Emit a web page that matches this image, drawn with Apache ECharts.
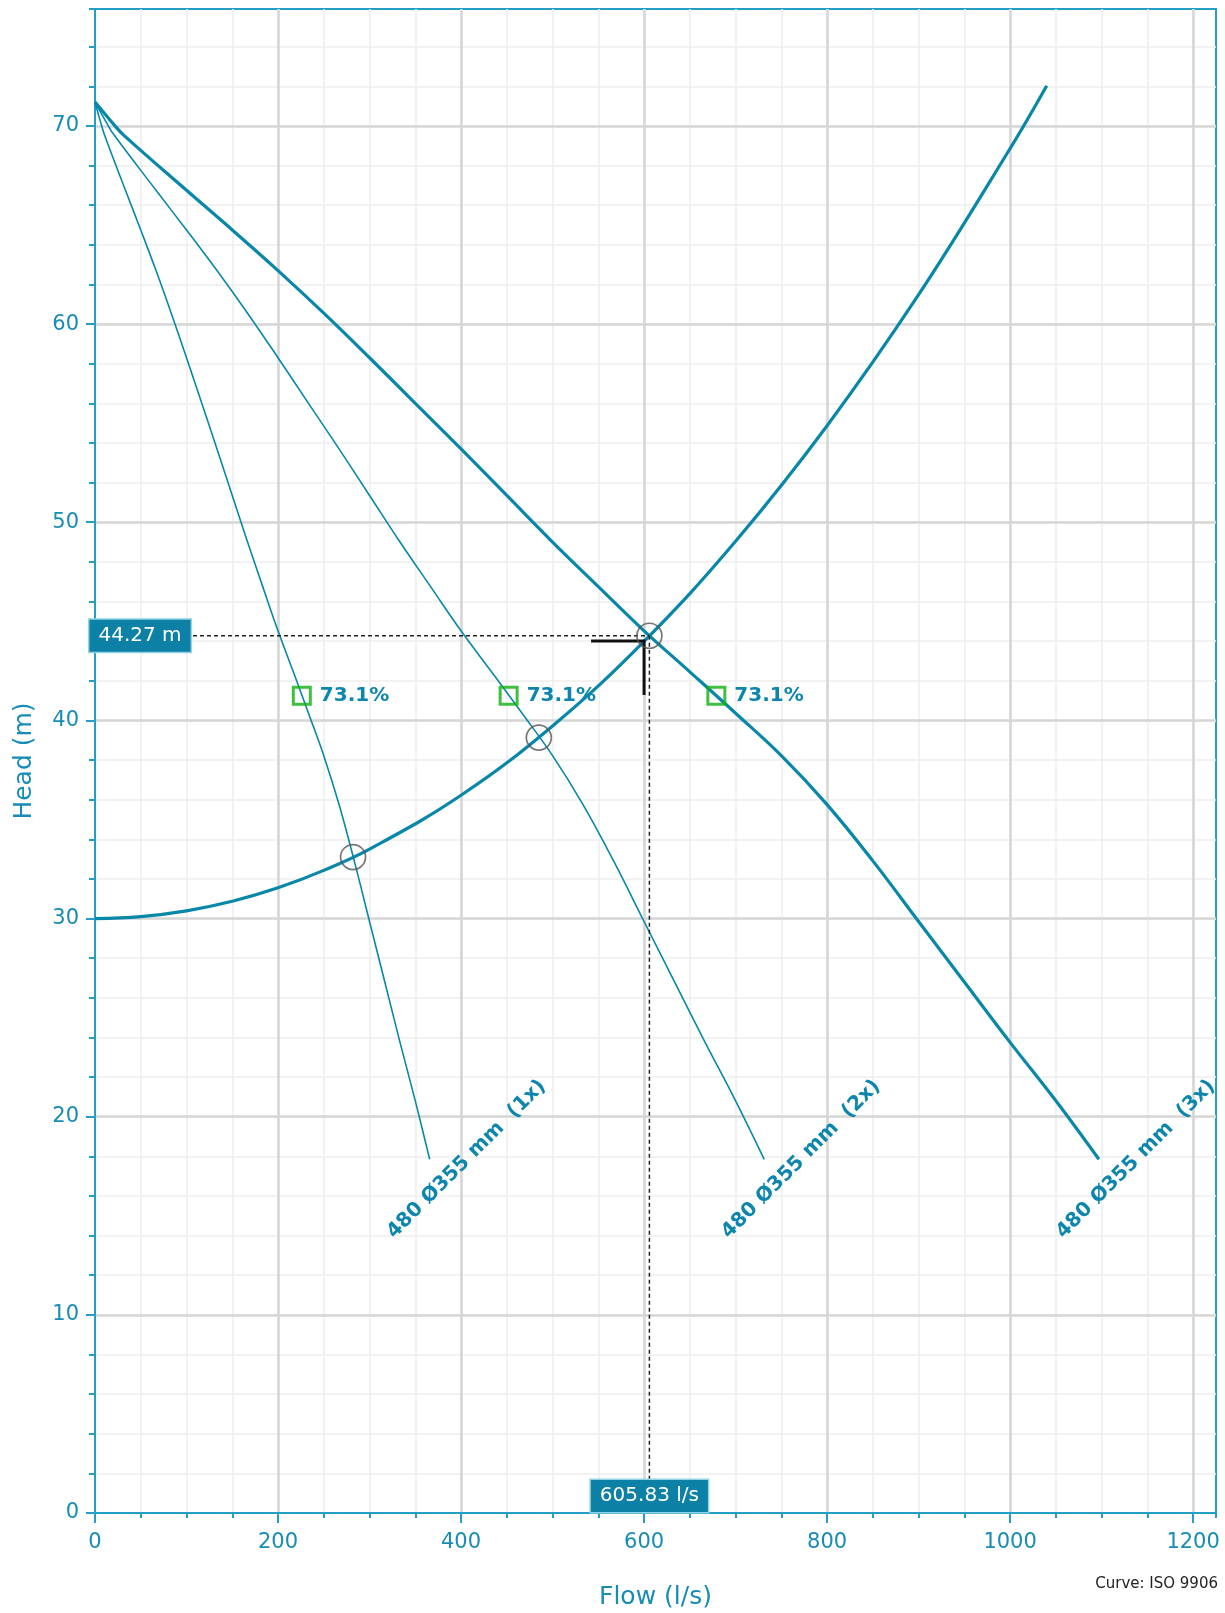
<!DOCTYPE html>
<html><head><meta charset="utf-8">
<script src="https://cdn.jsdelivr.net/npm/echarts@6/dist/echarts.min.js"></script>
<style>html,body{margin:0;padding:0;background:#fff}#chart{width:1225px;height:1613px}</style>
</head><body><div id="chart"></div>
<script>
// ---- data ----
const flowMax = 1225;
const headMax = 75.9;
const flowTickStep = 200;
const headTickStep = 10;
const flowMinorStep = 50;
const headMinorStep = 2;

const pumpHeads = [71.2, 70.65, 70.1, 69.55, 66.75, 64.75, 62.7, 60.55, 58.3, 56.0, 53.7, 51.35, 49.0, 46.75, 44.52, 42.45, 40.36, 38.22, 35.75, 32.91, 29.85, 26.8, 23.75, 20.8, 17.85];
const flows1x = [0, 3.3, 6.7, 10.3, 33.3, 50, 66.7, 83.3, 100, 116.7, 133.3, 150, 166.7, 183.3, 200, 216.7, 233.3, 250, 266.7, 283.3, 300, 316.7, 333.3, 350, 365.7];
const flows2x = [0, 6.7, 13.3, 20.7, 66.7, 100, 133.3, 166.7, 200, 233.3, 266.7, 300, 333.3, 366.7, 400, 433.3, 466.7, 500, 533.3, 566.7, 600, 633.3, 666.7, 700, 731.3];
const flows3x = [0, 10, 20, 31, 100, 150, 200, 250, 300, 350, 400, 450, 500, 550, 600, 650, 700, 750, 800, 850, 900, 950, 1000, 1050, 1097];
const systemFlows = [0, 50, 100, 150, 200, 250, 300, 400, 500, 600, 700, 800, 900, 1000, 1040];
const systemHeads = [30.0, 30.1, 30.39, 30.87, 31.55, 32.43, 33.5, 36.22, 39.72, 43.99, 49.04, 54.87, 61.48, 68.86, 72.03];
const intersections = [[282,33.1],[485,39.13],[605.83,44.27]];
const bepPoints = [[226,41.24],[452,41.24],[679,41.24]];
const bepLabels = ['73.1%','73.1%','73.1%'];
const curveNames = ['480 Ø355 mm  (1x)','480 Ø355 mm  (2x)','480 Ø355 mm  (3x)'];
const operatingPoint = [605.83, 44.27];
const dutyPoint = [600, 44.0];
const xName = 'Flow (l/s)';
const yName = 'Head (m)';
const footnote = 'Curve: ISO 9906';

// ---- styles ----
const FONT = 'DejaVu Sans';
const axisColor = '#239ec7';
const textColor = '#168cb6';
const curveColor = '#0887a9';
const majorGrid = '#d6d6d6';
const minorGrid = '#eeeeee';

const zip = (xs, ys) => xs.map((x, i) => [x, ys[i]]);
const pump1x = zip(flows1x, pumpHeads);
const pump2x = zip(flows2x, pumpHeads);
const pump3x = zip(flows3x, pumpHeads);
const systemCurve = zip(systemFlows, systemHeads);

const chart = echarts.init(document.getElementById('chart'), null, {renderer:'canvas'});

const lastPts = [pump1x[pump1x.length-1], pump2x[pump2x.length-1], pump3x[pump3x.length-1]];
const plain = v => String(v);

const option = {
  animation: false,
  backgroundColor: '#fff',
  title: {
    text: footnote, right: 7, top: 1577, padding: 0,
    textStyle: {fontFamily: FONT, fontSize: 15, fontWeight: 'normal', color: '#222'}
  },
  grid: {left: 95, right: 9, top: 9, bottom: 100, show: true, borderColor: axisColor, borderWidth: 2,
         backgroundColor: 'transparent', containLabel: false, outerBoundsMode: 'none'},
  xAxis: [
    {type:'value', min:0, max:flowMax, interval:flowTickStep, position:'bottom', z:1,
     axisLine:{show:true, onZero:false, lineStyle:{color:axisColor, width:2}},
     axisTick:{show:true, length:10, lineStyle:{color:axisColor, width:2}},
     axisLabel:{color:textColor, fontFamily:FONT, fontSize:21, margin:19, showMaxLabel:false, formatter:plain},
     splitLine:{show:true, showMinLine:false, showMaxLine:false, lineStyle:{color:majorGrid, width:2.6}},
     name:xName, nameLocation:'middle', nameGap:72, nameMoveOverlap:false,
     nameTextStyle:{color:textColor, fontFamily:FONT, fontSize:25}},
    {type:'value', min:0, max:flowMax, interval:flowMinorStep, position:'bottom', z:0,
     axisLine:{show:false},
     axisTick:{show:true, length:5, lineStyle:{color:axisColor, width:2}},
     axisLabel:{show:false},
     splitLine:{show:true, showMinLine:false, showMaxLine:false, lineStyle:{color:minorGrid, width:1.5}}}
  ],
  yAxis: [
    {type:'value', min:0, max:headMax, interval:headTickStep, position:'left', z:1,
     axisLine:{show:true, onZero:false, lineStyle:{color:axisColor, width:2}},
     axisTick:{show:true, length:9, lineStyle:{color:axisColor, width:2}},
     axisLabel:{color:textColor, fontFamily:FONT, fontSize:21, margin:16, showMaxLabel:false, formatter:plain},
     splitLine:{show:true, showMinLine:false, showMaxLine:false, lineStyle:{color:majorGrid, width:2.6}},
     name:yName, nameLocation:'middle', nameGap:58, nameMoveOverlap:false,
     nameTextStyle:{color:textColor, fontFamily:FONT, fontSize:25}},
    {type:'value', min:0, max:headMax, interval:headMinorStep, position:'left', z:0,
     axisLine:{show:false},
     axisTick:{show:true, length:6, lineStyle:{color:axisColor, width:2}},
     axisLabel:{show:false},
     splitLine:{show:true, showMinLine:false, showMaxLine:false, lineStyle:{color:minorGrid, width:1.5}}}
  ],
  series: [
    {type:'line', data:pump1x, smooth:0.4, symbol:'none', z:3, lineStyle:{color:curveColor, width:1.6}},
    {type:'line', data:pump2x, smooth:0.4, symbol:'none', z:3, lineStyle:{color:curveColor, width:1.6}},
    {type:'line', data:pump3x, smooth:0.4, symbol:'none', z:3, lineStyle:{color:curveColor, width:3.2}},
    {type:'line', data:systemCurve, smooth:0.4, symbol:'none', z:3, lineStyle:{color:curveColor, width:3.2}},
    {type:'line', data:[[0,operatingPoint[1]],[operatingPoint[0],operatingPoint[1]]], symbol:'none', z:4,
     lineStyle:{color:'#222', width:1.5, type:[4,3]}},
    {type:'line', data:[[operatingPoint[0],operatingPoint[1]],[operatingPoint[0],0]], symbol:'none', z:4,
     lineStyle:{color:'#222', width:1.5, type:[4,3]}},
    {type:'custom', coordinateSystem:'cartesian2d', clip:false, z:6, data:[dutyPoint],
     renderItem: function(params, api){
       const p = api.coord([api.value(0), api.value(1)]);
       return {type:'polyline', shape:{points:[[p[0]-53,p[1]],[p[0],p[1]],[p[0],p[1]+54]]},
               style:{stroke:'#111', lineWidth:3, fill:null}};
     }},
    {type:'scatter', data:intersections, symbol:'circle', symbolSize:25, z:7, silent:true,
     itemStyle:{color:'rgba(0,0,0,0)', borderColor:'#555', borderWidth:1.7}},
    {type:'scatter', data:bepPoints, symbol:'rect', symbolSize:17, z:7, silent:true,
     itemStyle:{color:'rgba(0,0,0,0)', borderColor:'#10b010', borderWidth:3}},
    {type:'custom', coordinateSystem:'cartesian2d', clip:false, z:8, data:bepPoints,
     renderItem: function(params, api){
       const p = api.coord([api.value(0), api.value(1)]);
       return {type:'text', x:p[0]+18, y:p[1],
               style:{text:bepLabels[params.dataIndex], fill:'#0d86ae', fontFamily:FONT, fontSize:20, fontWeight:'bold',
                      align:'left', verticalAlign:'middle'}};
     }},
    {type:'custom', coordinateSystem:'cartesian2d', clip:false, z:8, data:lastPts,
     renderItem: function(params, api){
       const p = api.coord([api.value(0), api.value(1)]);
       return {type:'text', x:p[0]+37, y:p[1], rotation:Math.PI/4,
               style:{text:curveNames[params.dataIndex], fill:'#0d86ae', fontFamily:FONT, fontSize:20, fontWeight:'bold',
                      align:'center', verticalAlign:'middle'}};
     }},
    {type:'custom', coordinateSystem:'cartesian2d', clip:false, z:10,
     data:[[0, operatingPoint[1]], [operatingPoint[0], 0]],
     renderItem: function(params, api){
       const p = api.coord([api.value(0), api.value(1)]);
       const isHead = params.dataIndex === 0;
       const txt = isHead ? operatingPoint[1].toFixed(2) + ' m' : operatingPoint[0].toFixed(2) + ' l/s';
       return {type:'text', x: p[0] + (isHead ? 45 : 0), y: p[1] - (isHead ? 0 : 17),
               style:{text:txt, fill:'#fff', fontFamily:FONT, fontSize:20, lineHeight:21,
                      align:'center', verticalAlign:'middle', backgroundColor:'#0c80a5',
                      borderColor:'#8fd4e4', borderWidth:1.5, padding:[6,9,5,9]}};
     }}
  ]
};
chart.setOption(option);
</script></body></html>
